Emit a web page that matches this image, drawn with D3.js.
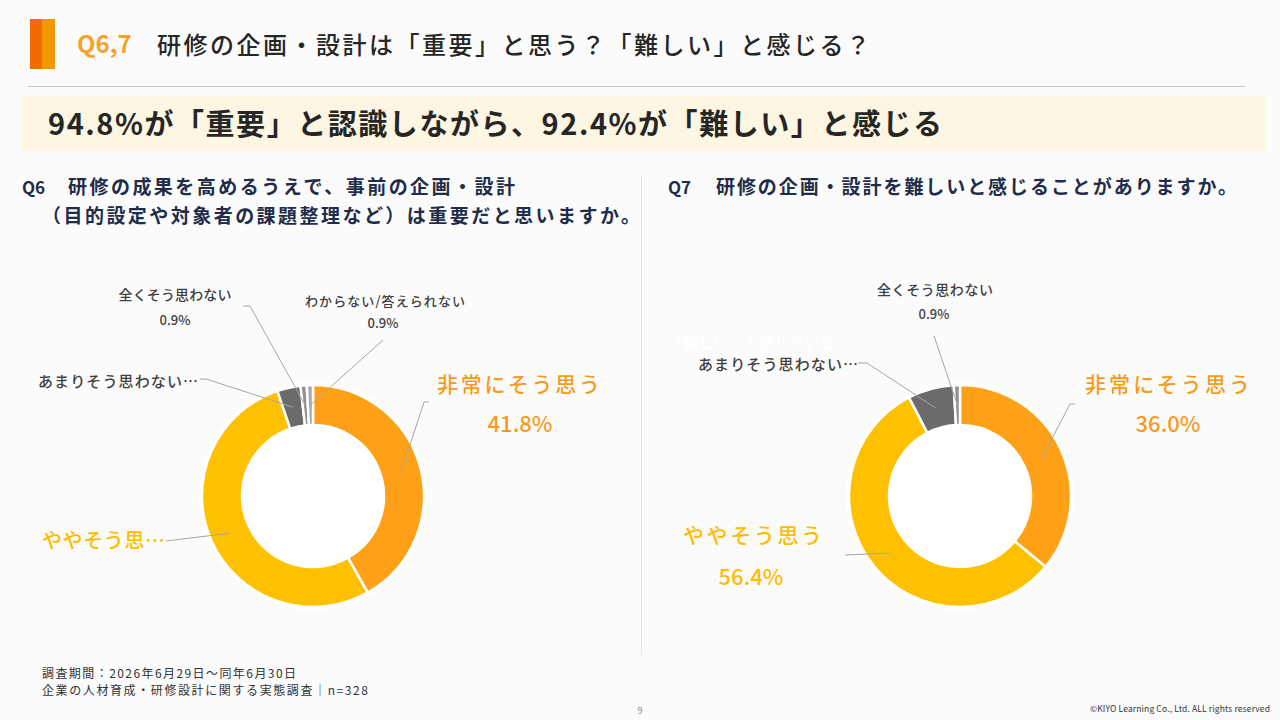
<!DOCTYPE html>
<html><head><meta charset="utf-8">
<script src="https://cdn.jsdelivr.net/npm/d3@7/dist/d3.min.js"></script>
<style>html,body{margin:0;padding:0;background:#fbfbfb;}svg{display:block;font-family:"Noto Sans CJK JP","Noto Sans",sans-serif;}</style>
</head><body>
<svg id="c" width="1280" height="720"></svg>
<script>
// ---- data ----
const q6Categories = ["非常にそう思う","ややそう思う","あまりそう思わない","全くそう思わない","わからない/答えられない"];
const q6Values = [41.8, 53.0, 3.4, 0.9, 0.9];
const q7Categories = ["非常にそう思う","ややそう思う","あまりそう思わない","全くそう思わない"];
const q7Values = [36.0, 56.4, 6.7, 0.9];
const sliceColors = ["#FFA116","#FFC000","#6B6B6B","#8F8F8F","#A8A8A8"];

const svg = d3.select("#c");
svg.append("rect").attr("width",1280).attr("height",720).attr("fill","#fbfbfb");

function txt(x,y,s,o){
  const t = svg.append("text").attr("x",x).attr("y",y).text(s)
    .attr("font-size",o.size).attr("fill",o.fill||"#262626")
    .attr("font-weight",o.weight||400).attr("text-anchor",o.anchor||"start");
  if(o.len) t.attr("textLength",o.len).attr("lengthAdjust","spacing");
  if(o.ls) t.attr("letter-spacing",o.ls);
  return t;
}

// ---- header ----
svg.append("rect").attr("x",30).attr("y",19).attr("width",12).attr("height",50).attr("fill","#F26B00");
svg.append("rect").attr("x",42).attr("y",19).attr("width",13).attr("height",50).attr("fill","#F39800");
txt(77,53,"Q6,7",{size:24,weight:700,fill:"#F5A32A"});
txt(157,54,"研修の企画・設計は「重要」と思う？「難しい」と感じる？",{size:24,weight:500,fill:"#262626",len:713});
svg.append("line").attr("x1",28).attr("x2",1245).attr("y1",86.5).attr("y2",86.5).attr("stroke","#c4c4c4").attr("stroke-width",1);
svg.append("rect").attr("x",22).attr("y",96).attr("width",1243).attr("height",55).attr("fill","#FDF6E2");
txt(48,135,"94.8%が「重要」と認識しながら、92.4%が「難しい」と感じる",{size:29,weight:700,fill:"#262626",len:894});

// ---- question headers ----
const navy = "#1F2D4A";
txt(22,194,"Q6",{size:17,weight:700,fill:navy});
txt(68,194,"研修の成果を高めるうえで、事前の企画・設計",{size:19,weight:700,fill:navy,len:447});
txt(42,223,"（目的設定や対象者の課題整理など）は重要だと思いますか。",{size:19,weight:700,fill:navy,len:598});
txt(668,194,"Q7",{size:17,weight:700,fill:navy});
txt(716,194,"研修の企画・設計を難しいと感じることがありますか。",{size:19,weight:700,fill:navy,len:521});
svg.append("line").attr("x1",641.5).attr("x2",641.5).attr("y1",175).attr("y2",655).attr("stroke","#e4e4e4");

// ---- donuts ----
const pie = d3.pie().sort(null).value(d=>d);
const arc = d3.arc().innerRadius(71).outerRadius(111);
function donut(cx,cy,values){
  const g = svg.append("g").attr("transform",`translate(${cx},${cy})`);
  g.append("circle").attr("r",114).attr("fill","#ffffff");
  const arcs = pie(values);
  g.selectAll("path").data(arcs).join("path").attr("d",arc)
    .attr("fill",(d,i)=>sliceColors[i]).attr("stroke","#ffffff").attr("stroke-width",2.5);
  return arcs.map(a=>{const c=arc.centroid(a);return [c[0]+cx,c[1]+cy];});
}
const c6 = donut(313,496,q6Values);
const c7 = donut(960,496,q7Values);

function leader(pts){
  svg.append("path").attr("d",d3.line()(pts)).attr("fill","none").attr("stroke","#A6A6A6").attr("stroke-width",1);
}
const fmt = v=>d3.format(".1f")(v)+"%";
const gray="#404040", orangeT="#F89B1C", yellowT="#FFBC00";

// Q6 labels
leader([[243,306],[250,306],c6[3]]);
leader([[383,340],c6[4]]);
leader([[200,379],[206,379],c6[2]]);
leader([[429,402],[424,402],c6[0]]);
leader([[166,541],c6[1]]);
txt(175,300,q6Categories[3],{size:14,weight:500,fill:gray,anchor:"middle",len:113});
txt(175,325,fmt(q6Values[3]),{size:13,weight:500,fill:gray,anchor:"middle"});
txt(385,306,q6Categories[4],{size:13,weight:500,fill:gray,anchor:"middle",len:160});
txt(383,328,fmt(q6Values[4]),{size:13,weight:500,fill:gray,anchor:"middle"});
txt(38,387,"あまりそう思わない…",{size:15,weight:500,fill:gray,len:160});
txt(437,392,q6Categories[0],{size:21,weight:500,fill:orangeT,len:163});
txt(520,432,fmt(q6Values[0]),{size:22,weight:500,fill:orangeT,anchor:"middle"});
txt(42,548,"ややそう思…",{size:20,weight:500,fill:yellowT,len:123});

// Q7 labels
txt(668,348,"「難しい」と感じている",{size:15,weight:700,fill:"#ffffff",len:167});
leader([[934,336],c7[3]]);
leader([[858,363],[867,363],c7[2]]);
leader([[1075,404],[1070,404],c7[0]]);
leader([[845,555],c7[1]]);
txt(935,295,q7Categories[3],{size:14,weight:500,fill:gray,anchor:"middle",len:116});
txt(934,319,fmt(q7Values[3]),{size:13,weight:500,fill:gray,anchor:"middle"});
txt(698,370,"あまりそう思わない…",{size:15,weight:500,fill:gray,len:160});
txt(1085,392,q7Categories[0],{size:21,weight:500,fill:orangeT,len:165});
txt(1168,432,fmt(q7Values[0]),{size:22,weight:500,fill:orangeT,anchor:"middle"});
txt(683,543,q7Categories[1],{size:21,weight:500,fill:yellowT,len:139});
txt(751,585,fmt(q7Values[1]),{size:22,weight:500,fill:yellowT,anchor:"middle"});

// ---- footer ----
txt(42,678,"調査期間：2026年6月29日～同年6月30日",{size:12,fill:"#333333",len:254});
txt(42,695,"企業の人材育成・研修設計に関する実態調査｜n=328",{size:12,fill:"#333333",len:326});
txt(640,714,"9",{size:9,fill:"#888888",anchor:"middle"});
txt(1270,712,"©KIYO Learning Co., Ltd. ALL rights reserved",{size:8.5,fill:"#333333",anchor:"end",len:180});
</script>
</body></html>
